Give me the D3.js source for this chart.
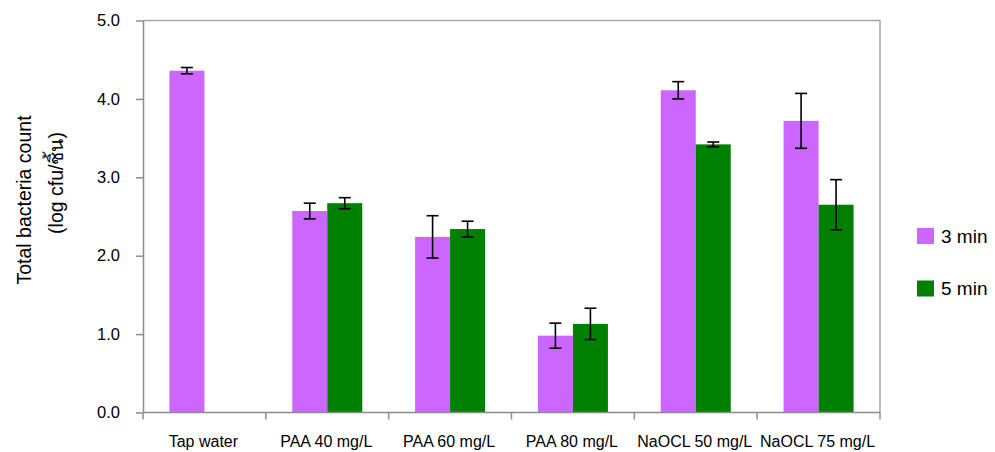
<!DOCTYPE html>
<meta charset="utf-8">
<style>
  body { margin: 0; background: #fff; }
  svg { display: block; font-family: "Liberation Sans", Arial, sans-serif; }
</style>
<svg width="995" height="452"></svg>
<script src="https://cdn.jsdelivr.net/npm/d3@7"></script>
<script>

var categories = ["Tap water", "PAA 40 mg/L", "PAA 60 mg/L", "PAA 80 mg/L", "NaOCL 50 mg/L", "NaOCL 75 mg/L"],
    series = ["3 min", "5 min"];

// means and error (+/-) per series
var values3 = [4.36, 2.57, 2.24, 0.98, 4.11, 3.72],
    errors3 = [0.04, 0.10, 0.27, 0.16, 0.11, 0.35],
    values5 = [null, 2.67, 2.34, 1.13, 3.42, 2.65],
    errors5 = [null, 0.07, 0.10, 0.20, 0.03, 0.32];

var yTicks = [0, 1, 2, 3, 4, 5];

var colors = ["#cc66ff", "#008000"];

var svg = d3.select("svg"),
    plotL = 143, plotR = 880, plotT = 20.5, plotB = 412.5;

var x0 = d3.scaleBand().domain(categories).range([plotL, plotR]).padding(0);
var bw = x0.bandwidth(), barW = 35;
var x1 = d3.scaleBand().domain(series).range([(bw - 2 * barW) / 2, (bw + 2 * barW) / 2]);
var y = d3.scaleLinear().domain([0, 5]).range([plotB, plotT]);
var color = d3.scaleOrdinal().domain(series).range(colors);

var data = [];
categories.forEach(function(c, i) {
  data.push({cat: c, s: series[0], v: values3[i], e: errors3[i]});
  data.push({cat: c, s: series[1], v: values5[i], e: errors5[i]});
});
data = data.filter(function(d) { return d.v != null; });

// plot frame (top + right)
svg.append("path")
  .attr("d", "M" + plotL + "," + plotT + "H" + plotR + "V" + plotB)
  .attr("fill", "none")
  .attr("stroke", "#a6a6a6")
  .attr("stroke-width", 1.5);

// bars
svg.append("g").selectAll("rect")
  .data(data)
  .enter().append("rect")
    .attr("x", function(d) { return x0(d.cat) + x1(d.s); })
    .attr("y", function(d) { return y(d.v); })
    .attr("width", x1.bandwidth())
    .attr("height", function(d) { return y(0) - y(d.v); })
    .attr("fill", function(d) { return color(d.s); });

// error bars
var eb = svg.append("g").selectAll("g")
  .data(data)
  .enter().append("g")
    .attr("stroke", "#000")
    .attr("stroke-width", 1.6)
    .attr("transform", function(d) { return "translate(" + (x0(d.cat) + x1(d.s) + x1.bandwidth() / 2) + ",0)"; });

eb.append("line")
  .attr("y1", function(d) { return y(d.v + d.e); })
  .attr("y2", function(d) { return y(d.v - d.e); });
eb.append("line")
  .attr("x1", -6).attr("x2", 6)
  .attr("y1", function(d) { return y(d.v + d.e); })
  .attr("y2", function(d) { return y(d.v + d.e); });
eb.append("line")
  .attr("x1", -6).attr("x2", 6)
  .attr("y1", function(d) { return y(d.v - d.e); })
  .attr("y2", function(d) { return y(d.v - d.e); });

// y axis
var yAxis = svg.append("g")
  .attr("transform", "translate(" + plotL + ",0)")
  .call(d3.axisLeft(y).tickValues(yTicks).tickFormat(d3.format(".1f")).tickSize(7).tickSizeOuter(0).tickPadding(16));
yAxis.selectAll("path, line").attr("stroke", "#8c8c8c").attr("stroke-width", 1.5);
yAxis.selectAll("text").attr("font-size", 16.5).attr("font-family", null).attr("fill", "#000");

// x axis
var xg = svg.append("g");
xg.append("line")
  .attr("x1", plotL).attr("x2", plotR)
  .attr("y1", plotB).attr("y2", plotB)
  .attr("stroke", "#8c8c8c").attr("stroke-width", 1.5);
xg.selectAll(".tick")
  .data(categories.concat([null]))
  .enter().append("line")
    .attr("x1", function(d, i) { return plotL + i * bw; })
    .attr("x2", function(d, i) { return plotL + i * bw; })
    .attr("y1", plotB).attr("y2", plotB + 7)
    .attr("stroke", "#8c8c8c").attr("stroke-width", 1.5);
xg.selectAll("text")
  .data(categories)
  .enter().append("text")
    .attr("x", function(d) { return x0(d) + bw / 2 - 1; })
    .attr("y", 447)
    .attr("text-anchor", "middle")
    .attr("font-size", 16)
    .text(function(d) { return d; });

// y title
svg.append("text")
  .attr("transform", "translate(31,200) rotate(-90)")
  .attr("text-anchor", "middle")
  .attr("font-size", 19.5)
  .text("Total bacteria count");
svg.append("text")
  .attr("transform", "translate(63,183) rotate(-90)")
  .attr("text-anchor", "middle")
  .attr("font-size", 19.5)
  .text("(log cfu/ชิ้น)");

// legend
var lg = svg.append("g").selectAll("g")
  .data(series)
  .enter().append("g")
    .attr("transform", function(d, i) { return "translate(917," + (228 + i * 52.5) + ")"; });
lg.append("rect").attr("width", 17).attr("height", 16).attr("fill", function(d) { return color(d); });
lg.append("text").attr("x", 24).attr("y", 14.5).attr("font-size", 19).text(function(d) { return d; });

</script>
